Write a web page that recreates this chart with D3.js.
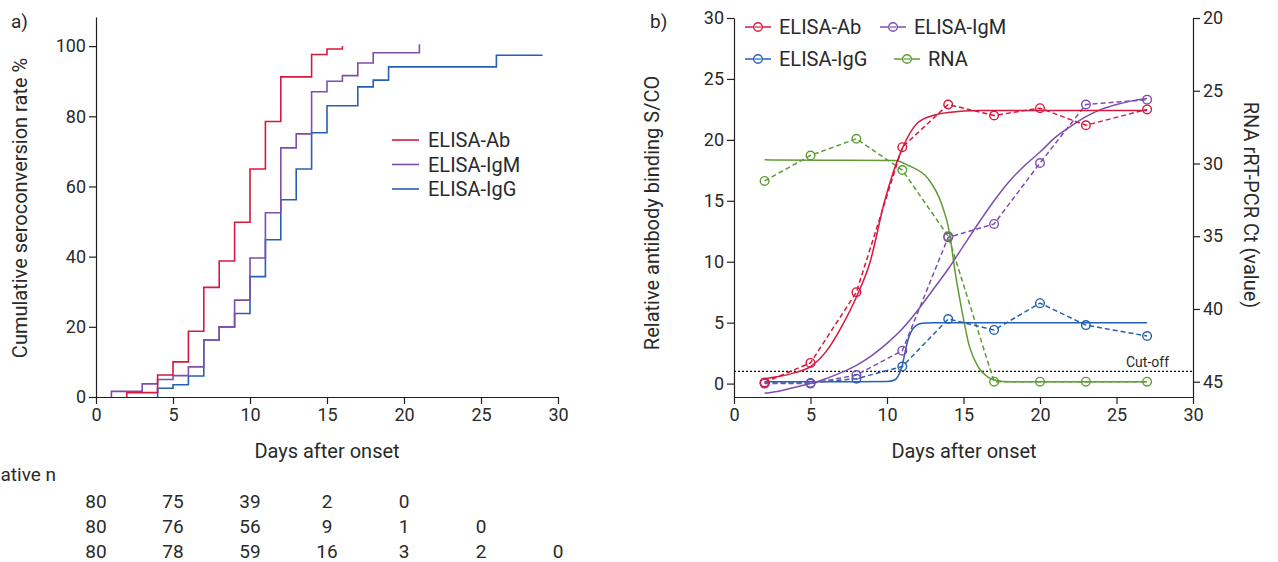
<!DOCTYPE html>
<html lang="en">
  <head>
    <meta charset="utf-8" />
    <script src="https://d3js.org/d3.v7.min.js"></script>
    <style>
      body { margin: 0; background: white; }
      svg text { font-family: Roboto, "DejaVu Sans", sans-serif; fill: #2a2a2a; }
      .axis path, .axis line { stroke: #231f20; stroke-width: 1.2; }
      .axis text { font-size: 18px; }
    </style>
    <title>Seroconversion</title>
  </head>
  <body>
    <svg id="chart" width="1278" height="562"></svg>
    <script>
      // panel a: cumulative seroconversion, step points (day, %)
      const abStepDays = [2, 2, 4, 5, 6, 7, 8, 9, 10, 11, 12, 14, 15, 16];
      const abStepPct = [0, 1.25, 6.25, 10, 18.75, 31.25, 38.75, 49.8, 65, 78.5, 91.25, 97.6, 99.2, 100];
      const igmStepDays = [1, 1, 3, 4, 5, 6, 7, 8, 9, 10, 11, 12, 13, 14, 15, 16, 17, 18, 21];
      const igmStepPct = [0, 1.6, 3.75, 5, 6.1, 8.6, 16.25, 20, 27.6, 39.6, 52.5, 71, 75, 87, 90, 91.6, 95.2, 98.1, 100.5];
      const iggStepDays = [4, 4, 5, 6, 7, 8, 9, 10, 11, 12, 13, 14, 15, 17, 18, 19, 26, 29];
      const iggStepPct = [0, 2.5, 3.5, 6.0, 16.25, 20, 23.8, 34.3, 44.8, 56.2, 65, 75.3, 83, 88.4, 90.3, 94.1, 97.4, 97.4];

      const tableDays = [0, 5, 10, 15, 20, 25, 30];
      const abNegative = [80, 75, 39, 2, 0];
      const igmNegative = [80, 76, 56, 9, 1, 0];
      const iggNegative = [80, 78, 59, 16, 3, 2, 0];

      // panel b: measured points
      const sampleDays = [2, 5, 8, 11, 14, 17, 20, 23, 27];
      const abValues = [0.1, 1.7, 7.5, 19.4, 22.9, 22.0, 22.6, 21.2, 22.5];
      const igmValues = [0.0, 0.0, 0.7, 2.7, 12.0, 13.1, 18.1, 22.9, 23.3];
      const iggValues = [0.05, 0.05, 0.4, 1.4, 5.3, 4.4, 6.6, 4.8, 3.9];
      const rnaCt = [31.2, 29.45, 28.3, 30.45, 35.0, 45.0, 45.0, 45.0, 45.0];

      // panel b: fitted curves
      const abFitDays = [2, 3, 4, 5, 6, 7, 8, 8.9, 9.85, 11, 12, 13, 14, 16, 20, 27];
      const abFitValues = [0.4, 0.6, 0.9, 1.4, 2.6, 4.6, 7.1, 10, 15, 19.3, 21.4, 22.0, 22.25, 22.4, 22.4, 22.4];
      const igmFitDays = [2, 3, 4, 5, 6, 7, 8, 9, 10, 11, 12, 13, 14, 15, 16, 17, 18, 19, 20, 21, 22, 23, 24, 25, 26, 27];
      const igmFitValues = [-0.8, -0.6, -0.3, 0.0, 0.4, 0.9, 1.5, 2.3, 3.3, 4.5, 6.0, 7.7, 9.4, 11.3, 13.2, 15.0, 16.6, 17.9, 19.0, 20.2, 21.1, 21.9, 22.5, 22.9, 23.2, 23.4];
      const iggFitDays = [2, 8, 10, 10.5, 10.8, 11, 11.2, 11.4, 11.6, 11.9, 12.3, 13, 27];
      const iggFitValues = [0.15, 0.15, 0.17, 0.3, 0.8, 1.5, 2.7, 3.7, 4.3, 4.75, 4.95, 5.0, 5.0];
      const rnaFitDays = [2, 6, 10.5, 11.4, 12.7, 13.55, 14.1, 14.4, 14.85, 15.4, 15.95, 16.6, 17.15, 18, 27];
      const rnaFitCt = [29.75, 29.77, 29.8, 30.14, 31.06, 32.73, 34.83, 37.09, 39.86, 42.62, 43.96, 44.68, 44.91, 45.0, 45.0];

      const seriesNames = ["ELISA-Ab", "ELISA-IgM", "ELISA-IgG", "RNA"];
      const seriesColors = ["#d7193f", "#7d4ead", "#2560b4", "#5f9c33"];
      const cutOff = 1;

      const svg = d3.select("#chart");

      // ---------- panel a ----------
      const xA = d3.scaleLinear().domain([0, 30]).range([96, 558]);
      const yA = d3.scaleLinear().domain([0, 108.3]).range([397, 17]);

      svg.append("g")
        .attr("class", "axis")
        .attr("transform", "translate(0,397)")
        .call(d3.axisBottom(xA).tickValues([0, 5, 10, 15, 20, 25, 30]).tickSize(7).tickSizeOuter(0).tickPadding(4));
      svg.append("g")
        .attr("class", "axis")
        .attr("transform", "translate(96,0)")
        .call(d3.axisLeft(yA).tickValues([0, 20, 40, 60, 80, 100]).tickSize(7).tickSizeOuter(0).tickPadding(3));

      const stepLine = d3.line()
        .x(d => xA(d[0]))
        .y(d => yA(d[1]))
        .curve(d3.curveStepAfter);

      const stepSeries = [
        d3.zip(iggStepDays, iggStepPct),
        d3.zip(igmStepDays, igmStepPct),
        d3.zip(abStepDays, abStepPct),
      ];
      const stepColors = [seriesColors[2], seriesColors[1], seriesColors[0]];
      svg.append("g")
        .selectAll("path")
        .data(stepSeries)
        .join("path")
        .attr("fill", "none")
        .attr("stroke", (d, i) => stepColors[i])
        .attr("stroke-width", 1.6)
        .attr("d", stepLine);

      const legA = svg.append("g").attr("transform", "translate(392,0)");
      [0, 1, 2].forEach(i => {
        const y = 140 + i * 24.5;
        legA.append("line")
          .attr("x1", 0).attr("x2", 27).attr("y1", y).attr("y2", y)
          .attr("stroke", seriesColors[i]).attr("stroke-width", 1.6);
        legA.append("text")
          .attr("x", 36).attr("y", y + 7)
          .attr("font-size", "20px")
          .text(seriesNames[i]);
      });

      svg.append("text").attr("x", 11).attr("y", 28).attr("font-size", "19px").text("a)");
      svg.append("text")
        .attr("transform", "translate(27,208) rotate(-90)")
        .attr("text-anchor", "middle")
        .attr("font-size", "20px")
        .text("Cumulative seroconversion rate %");
      svg.append("text")
        .attr("x", 327).attr("y", 458)
        .attr("text-anchor", "middle")
        .attr("font-size", "20px")
        .text("Days after onset");

      // row title, cut at the left edge as in the figure
      svg.append("text")
        .attr("x", 56).attr("y", 481)
        .attr("text-anchor", "end")
        .attr("font-size", "19px")
        .text("Negative n");

      const negRows = [abNegative, igmNegative, iggNegative];
      negRows.forEach((row, r) => {
        svg.append("g")
          .selectAll("text")
          .data(row)
          .join("text")
          .attr("x", (d, i) => xA(tableDays[i]))
          .attr("y", 508 + r * 25)
          .attr("text-anchor", "middle")
          .attr("font-size", "19px")
          .text(d => d);
      });

      // ---------- panel b ----------
      const xB = d3.scaleLinear().domain([0, 30]).range([734, 1193]);
      const yB = d3.scaleLinear().domain([-1.1, 30]).range([397, 18]);
      const yR = d3.scaleLinear().domain([46.05, 20]).range([397, 18]);

      svg.append("g")
        .attr("class", "axis")
        .attr("transform", "translate(0,397)")
        .call(d3.axisBottom(xB).tickValues([0, 5, 10, 15, 20, 25, 30]).tickSize(7).tickSizeOuter(0).tickPadding(4));
      svg.append("g")
        .attr("class", "axis")
        .attr("transform", "translate(734,0)")
        .call(d3.axisLeft(yB).tickValues([0, 5, 10, 15, 20, 25, 30]).tickSize(7).tickSizeOuter(0).tickPadding(3));
      svg.append("g")
        .attr("class", "axis")
        .attr("transform", "translate(1193,0)")
        .call(d3.axisRight(yR).tickValues([20, 25, 30, 35, 40, 45]).tickSize(7).tickSizeOuter(0).tickPadding(3));

      // cut-off
      svg.append("line")
        .attr("x1", xB(0)).attr("x2", xB(30))
        .attr("y1", yB(cutOff)).attr("y2", yB(cutOff))
        .attr("stroke", "#111").attr("stroke-width", 1.3)
        .attr("stroke-dasharray", "2,2");
      svg.append("text")
        .attr("x", 1169).attr("y", yB(cutOff) - 4)
        .attr("text-anchor", "end")
        .attr("font-size", "14px")
        .text("Cut-off");

      const fitLine = d3.line()
        .x(d => xB(d[0]))
        .y(d => d[1])
        .curve(d3.curveMonotoneX);
      const dashLine = d3.line()
        .x(d => xB(d[0]))
        .y(d => d[1]);

      const measured = [
        sampleDays.map((d, i) => [d, yB(abValues[i])]),
        sampleDays.map((d, i) => [d, yB(igmValues[i])]),
        sampleDays.map((d, i) => [d, yB(iggValues[i])]),
        sampleDays.map((d, i) => [d, yR(rnaCt[i])]),
      ];
      const fitted = [
        abFitDays.map((d, i) => [d, yB(abFitValues[i])]),
        igmFitDays.map((d, i) => [d, yB(igmFitValues[i])]),
        iggFitDays.map((d, i) => [d, yB(iggFitValues[i])]),
        rnaFitDays.map((d, i) => [d, yR(rnaFitCt[i])]),
      ];

      const order = [3, 2, 1, 0];
      order.forEach(s => {
        const g = svg.append("g");
        g.append("path")
          .attr("d", fitLine(fitted[s]))
          .attr("fill", "none")
          .attr("stroke", seriesColors[s])
          .attr("stroke-width", 1.5);
        g.append("path")
          .attr("d", dashLine(measured[s]))
          .attr("fill", "none")
          .attr("stroke", seriesColors[s])
          .attr("stroke-width", 1.5)
          .attr("stroke-dasharray", "5,3");
        g.selectAll("circle")
          .data(measured[s])
          .join("circle")
          .attr("cx", d => xB(d[0]))
          .attr("cy", d => d[1])
          .attr("r", 4.3)
          .attr("fill", "none")
          .attr("stroke", seriesColors[s])
          .attr("stroke-width", 1.4);
      });

      // legend b
      const legPos = [[745, 27], [880, 27], [745, 59], [894, 59]];
      legPos.forEach((p, i) => {
        const g = svg.append("g").attr("transform", `translate(${p[0]},${p[1]})`);
        g.append("line").attr("x1", 0).attr("x2", 26).attr("y1", 0).attr("y2", 0)
          .attr("stroke", seriesColors[i]).attr("stroke-width", 1.5);
        g.append("circle").attr("cx", 13).attr("cy", 0).attr("r", 4.3)
          .attr("fill", "white").attr("stroke", seriesColors[i]).attr("stroke-width", 1.4);
        g.append("line").attr("x1", 10).attr("x2", 16).attr("y1", 0).attr("y2", 0)
          .attr("stroke", seriesColors[i]).attr("stroke-width", 1.2);
        g.append("text").attr("x", 34).attr("y", 7).attr("font-size", "20px").text(seriesNames[i]);
      });

      svg.append("text").attr("x", 650).attr("y", 28).attr("font-size", "19px").text("b)");
      svg.append("text")
        .attr("transform", "translate(659,213) rotate(-90)")
        .attr("text-anchor", "middle")
        .attr("font-size", "20px")
        .text("Relative antibody binding S/CO");
      svg.append("text")
        .attr("transform", "translate(1244,205) rotate(90)")
        .attr("text-anchor", "middle")
        .attr("font-size", "20px")
        .text("RNA rRT-PCR Ct (value)");
      svg.append("text")
        .attr("x", 964).attr("y", 458)
        .attr("text-anchor", "middle")
        .attr("font-size", "20px")
        .text("Days after onset");
    </script>
  </body>
</html>
